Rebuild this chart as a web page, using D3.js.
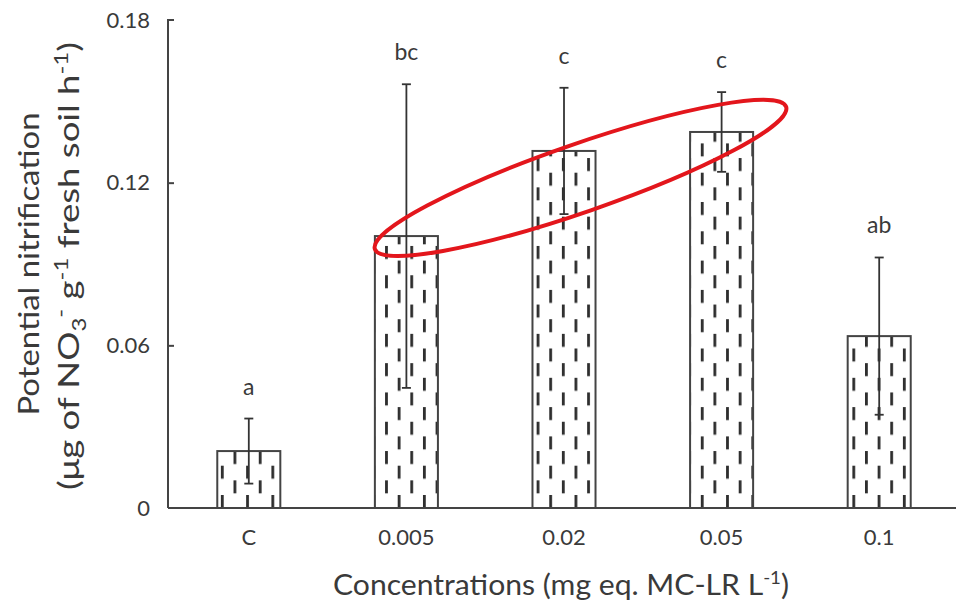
<!DOCTYPE html>
<html>
<head>
<meta charset="utf-8">
<script src="https://cdn.jsdelivr.net/npm/d3@7"></script>
<style>
  html, body { margin: 0; padding: 0; background: #fff; }
  svg { display: block; }
  text { font-family: Lato, "Open Sans", sans-serif; fill: #3a3a3a; }
</style>
</head>
<body>
<svg id="chart" width="958" height="609"></svg>
<script>
// Potential nitrification by microcystin concentration
const categories = ["C", "0.005", "0.02", "0.05", "0.1"];
const means      = [0.021, 0.1003, 0.1317, 0.1387, 0.0634];
const errors     = [0.012, 0.056, 0.0233, 0.0147, 0.029];
const letters    = ["a", "bc", "c", "c", "ab"];
const yTicks     = [0, 0.06, 0.12, 0.18];
const yTickLabels = ["0", "0.06", "0.12", "0.18"];

const W = 958, H = 609;
const margin = { left: 168, right: 0, top: 20, bottom: 101 };

const svg = d3.select("#chart");

const x = d3.scaleBand()
  .domain(categories)
  .range([margin.left + 2, W])
  .paddingInner(0.6)
  .paddingOuter(0.3);

const y = d3.scaleLinear()
  .domain([0, 0.18])
  .range([H - margin.bottom, margin.top]);

const bw = x.bandwidth();

// Dashed fill: staggered columns of short vertical dashes
const colStep = 12.63, rowStep = 29.3, dashLen = 13, dashW = 2.8;
const defs = svg.append("defs");
const pat = defs.append("pattern")
  .attr("id", "dashes")
  .attr("patternUnits", "userSpaceOnUse")
  .attr("x", x("C") + 5 - dashW / 2)
  .attr("y", y(0) - dashLen)
  .attr("width", colStep * 2)
  .attr("height", rowStep);
pat.append("rect").attr("width", colStep * 2).attr("height", rowStep).attr("fill", "#fff");
pat.append("rect").attr("x", 0).attr("y", 0)
  .attr("width", dashW).attr("height", dashLen).attr("fill", "#2e2e2e");
pat.append("rect").attr("x", colStep).attr("y", rowStep / 2)
  .attr("width", dashW).attr("height", dashLen).attr("fill", "#2e2e2e");

// Bars
svg.append("g").selectAll("rect")
  .data(categories)
  .join("rect")
  .attr("x", d => x(d))
  .attr("y", (d, i) => y(means[i]))
  .attr("width", bw)
  .attr("height", (d, i) => y(0) - y(means[i]))
  .attr("fill", "url(#dashes)")
  .attr("stroke", "#444")
  .attr("stroke-width", 2);

// Error bars
const capHalf = 4.5;
const eg = svg.append("g").attr("stroke", "#333").attr("stroke-width", 1.8);
categories.forEach((c, i) => {
  const cx = x(c) + bw / 2;
  const top = y(means[i] + errors[i]);
  const bot = y(means[i] - errors[i]);
  eg.append("line").attr("x1", cx).attr("x2", cx).attr("y1", top).attr("y2", bot);
  eg.append("line").attr("x1", cx - capHalf).attr("x2", cx + capHalf).attr("y1", top).attr("y2", top);
  eg.append("line").attr("x1", cx - capHalf).attr("x2", cx + capHalf).attr("y1", bot).attr("y2", bot);
});

// Significance letters
svg.append("g").selectAll("text")
  .data(categories)
  .join("text")
  .attr("x", d => x(d) + bw / 2)
  .attr("y", (d, i) => y(means[i] + errors[i]) - 24)
  .attr("text-anchor", "middle")
  .attr("font-size", 23)
  .text((d, i) => letters[i]);

// Y axis
const yAxis = d3.axisRight(y)
  .tickValues(yTicks)
  .tickSize(6)
  .tickFormat("");
const yg = svg.append("g")
  .attr("transform", `translate(${margin.left},0)`)
  .call(yAxis);
yg.select(".domain").attr("stroke", "#444").attr("stroke-width", 2)
  .attr("d", `M6,${y(0.18)}H0V${y(0)}`);
yg.selectAll(".tick line").attr("stroke", "#444").attr("stroke-width", 2);
yg.selectAll(".tick").filter(d => d === 0 || d === 0.18).select("line").remove();

svg.append("g").selectAll("text")
  .data(yTicks)
  .join("text")
  .attr("x", margin.left - 18)
  .attr("y", d => y(d))
  .attr("dy", "0.35em")
  .attr("text-anchor", "end")
  .attr("font-size", 22)
  .text((d, i) => yTickLabels[i]);

// X axis
const xg = svg.append("g")
  .attr("transform", `translate(0,${y(0)})`);
xg.append("line")
  .attr("x1", margin.left).attr("x2", W - 2)
  .attr("y1", 0).attr("y2", 0)
  .attr("stroke", "#444").attr("stroke-width", 2);
xg.selectAll("text")
  .data(categories)
  .join("text")
  .attr("x", d => x(d) + bw / 2)
  .attr("y", 37)
  .attr("text-anchor", "middle")
  .attr("font-size", 22)
  .text(d => d);

// Axis titles
const xt = svg.append("text")
  .attr("x", 561)
  .attr("y", 595)
  .attr("text-anchor", "middle")
  .attr("font-size", 29)
  .attr("textLength", 456)
  .attr("lengthAdjust", "spacingAndGlyphs");
xt.append("tspan").text("Concentrations (mg eq. MC-LR L");
xt.append("tspan").attr("font-size", 18).attr("dy", -11).text("-1");
xt.append("tspan").attr("dy", 11).text(")");

svg.append("text")
  .attr("transform", "translate(39,264) rotate(-90)")
  .attr("text-anchor", "middle")
  .attr("font-size", 29)
  .attr("textLength", 303)
  .attr("lengthAdjust", "spacingAndGlyphs")
  .text("Potential nitrification");

const yt2 = svg.append("text")
  .attr("transform", "translate(79,266) rotate(-90)")
  .attr("text-anchor", "middle")
  .attr("font-size", 29)
  .attr("textLength", 448)
  .attr("lengthAdjust", "spacingAndGlyphs");
yt2.append("tspan").text("(μg of NO");
yt2.append("tspan").attr("font-size", 19).attr("dy", 7).text("3");
yt2.append("tspan").attr("font-size", 19).attr("dy", -19).text("-");
yt2.append("tspan").attr("dy", 12).text(" g");
yt2.append("tspan").attr("font-size", 19).attr("dy", -11).text("-1");
yt2.append("tspan").attr("dy", 11).text(" fresh soil h");
yt2.append("tspan").attr("font-size", 19).attr("dy", -11).text("-1");
yt2.append("tspan").attr("dy", 11).text(")");

// Highlight ring around the treated groups that rose most
const p1 = [x("0.005"), y(0.0955)];
const p2 = [x("0.05") + bw + 33, y(0.148)];
const ecx = (p1[0] + p2[0]) / 2, ecy = (p1[1] + p2[1]) / 2;
const ang = Math.atan2(p2[1] - p1[1], p2[0] - p1[0]) * 180 / Math.PI;
const rx = Math.hypot(p2[0] - p1[0], p2[1] - p1[1]) / 2;
svg.append("ellipse")
  .attr("transform", `translate(${ecx},${ecy}) rotate(${ang})`)
  .attr("rx", rx)
  .attr("ry", 34)
  .attr("fill", "none")
  .attr("stroke", "#e3161c")
  .attr("stroke-width", 4);
</script>
</body>
</html>
